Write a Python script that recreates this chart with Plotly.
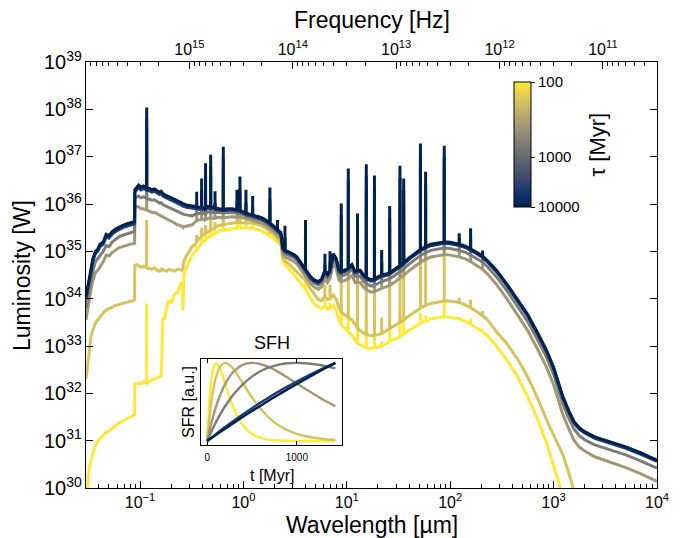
import math
import plotly.graph_objects as go
from plotly.colors import sample_colorscale, sequential

# ---------------- data ----------------
tau_myr = [100, 200, 500, 1000, 5000, 10000]

wavelength_um = [
    0.0300, 0.0310, 0.0322, 0.0335, 0.0350, 0.0370, 0.0390, 0.0410, 0.0440, 0.0470,
    0.0500, 0.0540, 0.0580, 0.0630, 0.0680, 0.0740, 0.0800, 0.0860, 0.0885, 0.0890,
    0.0930, 0.0970, 0.1020, 0.1080, 0.1159, 0.1230, 0.1300, 0.1380, 0.1460, 0.1540,
    0.1600, 0.1630, 0.1660, 0.1720, 0.1800, 0.1900, 0.2000, 0.2150, 0.2300, 0.2450,
    0.2550, 0.2600, 0.2650, 0.2800, 0.3000, 0.3200, 0.3400, 0.353, 0.372, 0.394,
    0.410, 0.430, 0.455, 0.482, 0.505, 0.531, 0.580, 0.638, 0.700, 0.780,
    0.865, 0.925, 0.980, 1.057, 1.130, 1.227, 1.350, 1.500, 1.650, 1.803,
    1.950, 2.130, 2.300, 2.400, 2.520, 2.8, 3.1, 3.3, 3.6, 3.98,
    4.4, 4.8, 5.3, 5.7, 6.14, 6.5, 6.87, 7.4, 7.9, 8.4,
    8.83, 9.5, 10.33, 11.2, 12.0, 12.68, 13.5, 14.5, 15.42, 17.0,
    18.49, 20.0, 21.73, 24.0, 25.96, 29.0, 32.66, 35.48, 40.0, 45.0,
    51.5, 57.8, 65.0, 75.0, 87.5, 100.0, 122.2, 140.0, 157.5, 180.0,
    205.6, 230.0, 280.0, 350.0, 450.0, 560.0, 700.0, 850.0, 1000.0, 1230.0,
    1410.0, 1580.0, 1780.0, 2000.0, 2500.0, 3500.0, 5000.0, 7000.0, 10000.0,
]

# log10 of the continuum luminosity [W]
log_lum_tau100 = [
    29.60, 30.00, 30.40, 30.60, 30.75, 30.90, 30.98, 31.05, 31.12, 31.18,
    31.20, 31.27, 31.32, 31.38, 31.42, 31.47, 31.50, 31.53, 31.55, 32.20,
    32.20, 32.22, 32.20, 32.24, 32.22, 32.25, 32.28, 32.30, 32.33, 32.35,
    32.36, 32.90, 33.60, 33.55, 33.80, 33.97, 33.90, 34.10, 34.12, 34.30,
    34.35, 33.75, 34.50, 34.65, 34.80, 34.92, 34.98, 35.02, 35.10, 35.18,
    35.20, 35.24, 35.30, 35.32, 35.35, 35.38, 35.43, 35.44, 35.46, 35.48,
    35.49, 35.50, 35.50, 35.50, 35.50, 35.49, 35.46, 35.43, 35.38, 35.32,
    35.27, 35.20, 35.12, 34.80, 34.72, 34.62, 34.50, 34.43, 34.32, 34.20,
    34.03, 33.90, 33.82, 33.79, 33.85, 33.78, 33.80, 33.86, 33.74, 33.55,
    33.45, 33.38, 33.30, 33.22, 33.12, 33.06, 33.02, 32.98, 32.96, 32.95,
    32.96, 32.98, 33.00, 33.05, 33.10, 33.14, 33.20, 33.25, 33.33, 33.40,
    33.48, 33.53, 33.57, 33.60, 33.62, 33.61, 33.57, 33.52, 33.46, 33.38,
    33.30, 33.22, 33.00, 32.72, 32.35, 31.93, 31.45, 30.97, 30.45, 29.85,
    29.40, 29.00, 28.60, 28.20, 27.50, 26.60, 25.80, 25.10, 24.30,
]
log_lum_tau200 = [
    32.30, 32.60, 32.95, 33.20, 33.35, 33.48, 33.55, 33.62, 33.70, 33.76,
    33.78, 33.82, 33.86, 33.88, 33.90, 33.93, 33.95, 33.96, 33.98, 34.70,
    34.72, 34.70, 34.66, 34.68, 34.65, 34.64, 34.62, 34.65, 34.60, 34.58,
    34.62, 34.60, 34.62, 34.60, 34.58, 34.62, 34.60, 34.58, 34.62, 34.60,
    34.60, 34.65, 34.78, 34.90, 35.00, 35.10, 35.15, 35.20, 35.27, 35.31,
    35.35, 35.38, 35.42, 35.45, 35.47, 35.50, 35.55, 35.56, 35.58, 35.60,
    35.61, 35.61, 35.60, 35.60, 35.60, 35.60, 35.57, 35.54, 35.48, 35.42,
    35.36, 35.28, 35.20, 34.87, 34.80, 34.72, 34.62, 34.56, 34.46, 34.38,
    34.22, 34.10, 33.98, 33.96, 34.05, 33.98, 34.00, 34.08, 33.98, 33.80,
    33.72, 33.66, 33.60, 33.55, 33.45, 33.38, 33.32, 33.27, 33.24, 33.22,
    33.22, 33.24, 33.27, 33.32, 33.37, 33.43, 33.50, 33.55, 33.64, 33.72,
    33.80, 33.86, 33.90, 33.93, 33.95, 33.95, 33.92, 33.87, 33.81, 33.73,
    33.64, 33.55, 33.30, 33.06, 32.72, 32.35, 31.90, 31.45, 31.12, 30.70,
    30.30, 29.90, 29.50, 29.10, 28.40, 27.50, 26.70, 26.00, 25.20,
]
log_lum_tau500 = [
    33.55, 33.76, 34.00, 34.20, 34.38, 34.55, 34.60, 34.68, 34.78, 34.92,
    34.90, 34.98, 35.03, 35.08, 35.10, 35.13, 35.15, 35.16, 35.17, 35.90,
    35.95, 35.94, 35.90, 35.90, 35.87, 35.85, 35.82, 35.82, 35.79, 35.76,
    35.75, 35.74, 35.72, 35.70, 35.68, 35.66, 35.64, 35.60, 35.56, 35.55,
    35.52, 35.50, 35.52, 35.53, 35.55, 35.56, 35.62, 35.65, 35.66, 35.67,
    35.67, 35.67, 35.70, 35.70, 35.70, 35.70, 35.72, 35.71, 35.72, 35.73,
    35.72, 35.72, 35.71, 35.69, 35.67, 35.65, 35.62, 35.59, 35.54, 35.48,
    35.42, 35.34, 35.28, 34.95, 34.89, 34.83, 34.78, 34.73, 34.60, 34.47,
    34.33, 34.25, 34.20, 34.25, 34.42, 34.34, 34.42, 34.75, 34.64, 34.39,
    34.36, 34.38, 34.42, 34.49, 34.34, 34.35, 34.34, 34.24, 34.19, 34.14,
    34.15, 34.18, 34.22, 34.25, 34.28, 34.35, 34.43, 34.49, 34.59, 34.68,
    34.77, 34.83, 34.88, 34.91, 34.93, 34.92, 34.88, 34.84, 34.78, 34.70,
    34.62, 34.52, 34.30, 34.01, 33.66, 33.33, 32.93, 32.56, 32.18, 31.55,
    31.24, 31.00, 30.86, 30.78, 30.66, 30.55, 30.43, 30.30, 30.14,
]
log_lum_tau1000 = [
    33.80, 33.97, 34.20, 34.39, 34.60, 34.78, 34.85, 34.93, 35.00, 35.12,
    35.10, 35.20, 35.25, 35.31, 35.34, 35.37, 35.39, 35.41, 35.42, 36.10,
    36.15, 36.17, 36.13, 36.15, 36.12, 36.10, 36.08, 36.09, 36.05, 36.02,
    36.03, 36.00, 35.99, 35.97, 35.95, 35.93, 35.90, 35.88, 35.84, 35.82,
    35.80, 35.78, 35.78, 35.77, 35.76, 35.75, 35.78, 35.80, 35.80, 35.80,
    35.80, 35.80, 35.83, 35.83, 35.82, 35.82, 35.82, 35.81, 35.82, 35.82,
    35.81, 35.80, 35.78, 35.75, 35.73, 35.71, 35.68, 35.65, 35.60, 35.54,
    35.48, 35.40, 35.34, 35.02, 34.96, 34.91, 34.86, 34.81, 34.68, 34.55,
    34.41, 34.33, 34.29, 34.34, 34.52, 34.44, 34.52, 34.86, 34.76, 34.51,
    34.48, 34.50, 34.55, 34.62, 34.47, 34.48, 34.47, 34.37, 34.32, 34.27,
    34.28, 34.32, 34.36, 34.39, 34.42, 34.49, 34.57, 34.63, 34.73, 34.82,
    34.91, 34.97, 35.02, 35.05, 35.07, 35.06, 35.02, 34.98, 34.92, 34.85,
    34.77, 34.67, 34.46, 34.18, 33.84, 33.52, 33.13, 32.77, 32.40, 31.77,
    31.46, 31.24, 31.10, 31.02, 30.91, 30.81, 30.70, 30.57, 30.42,
]
log_lum_tau5000 = [
    34.00, 34.15, 34.40, 34.57, 34.80, 34.95, 35.00, 35.10, 35.15, 35.31,
    35.28, 35.37, 35.42, 35.47, 35.50, 35.53, 35.55, 35.57, 35.58, 36.25,
    36.31, 36.35, 36.30, 36.33, 36.29, 36.28, 36.25, 36.27, 36.23, 36.20,
    36.22, 36.19, 36.17, 36.15, 36.13, 36.10, 36.07, 36.05, 36.01, 35.98,
    35.97, 35.95, 35.95, 35.93, 35.92, 35.90, 35.89, 35.90, 35.89, 35.89,
    35.88, 35.88, 35.91, 35.90, 35.90, 35.89, 35.87, 35.86, 35.87, 35.87,
    35.85, 35.84, 35.81, 35.78, 35.76, 35.74, 35.71, 35.68, 35.63, 35.57,
    35.51, 35.43, 35.37, 35.05, 34.99, 34.95, 34.90, 34.85, 34.72, 34.59,
    34.45, 34.37, 34.33, 34.39, 34.57, 34.49, 34.57, 34.92, 34.82, 34.57,
    34.55, 34.57, 34.62, 34.69, 34.55, 34.57, 34.57, 34.47, 34.42, 34.37,
    34.39, 34.43, 34.47, 34.49, 34.52, 34.59, 34.67, 34.73, 34.83, 34.92,
    35.01, 35.07, 35.12, 35.15, 35.17, 35.16, 35.12, 35.08, 35.02, 34.95,
    34.87, 34.77, 34.57, 34.29, 33.95, 33.64, 33.25, 32.89, 32.52, 31.90,
    31.59, 31.37, 31.24, 31.16, 31.05, 30.95, 30.84, 30.71, 30.56,
]
log_lum_tau10000 = [
    34.05, 34.20, 34.45, 34.62, 34.85, 35.00, 35.05, 35.15, 35.20, 35.36,
    35.33, 35.42, 35.47, 35.52, 35.55, 35.58, 35.60, 35.62, 35.63, 36.30,
    36.36, 36.40, 36.35, 36.38, 36.34, 36.33, 36.30, 36.32, 36.28, 36.25,
    36.27, 36.24, 36.22, 36.20, 36.18, 36.15, 36.12, 36.10, 36.06, 36.03,
    36.02, 36.00, 36.00, 35.98, 35.97, 35.95, 35.94, 35.94, 35.93, 35.93,
    35.92, 35.92, 35.95, 35.94, 35.93, 35.92, 35.90, 35.89, 35.90, 35.90,
    35.88, 35.87, 35.84, 35.81, 35.79, 35.77, 35.74, 35.71, 35.66, 35.60,
    35.54, 35.46, 35.40, 35.08, 35.02, 34.98, 34.93, 34.88, 34.75, 34.62,
    34.48, 34.40, 34.36, 34.42, 34.60, 34.52, 34.60, 34.95, 34.85, 34.60,
    34.58, 34.60, 34.65, 34.72, 34.58, 34.60, 34.60, 34.50, 34.45, 34.40,
    34.42, 34.46, 34.50, 34.52, 34.55, 34.62, 34.70, 34.76, 34.86, 34.95,
    35.04, 35.10, 35.15, 35.18, 35.20, 35.19, 35.15, 35.11, 35.05, 34.98,
    34.90, 34.80, 34.60, 34.32, 33.98, 33.67, 33.28, 32.92, 32.55, 31.93,
    31.62, 31.40, 31.27, 31.19, 31.08, 30.98, 30.87, 30.74, 30.59,
]

# emission lines: wavelength and log10 of the line peak for each tau
line_wavelength_um = [
    0.1159, 0.353, 0.394, 0.430, 0.482, 0.531, 0.638, 0.865, 0.925, 1.057,
    1.227, 1.803, 2.130, 2.520, 3.98, 6.14, 6.87, 8.83, 10.33, 12.68,
    15.42, 18.49, 21.73, 25.96, 32.66, 35.48, 51.5, 57.8, 87.5, 122.2,
    157.5, 205.6,
]
line_peak_tau100 = [
    33.90, 35.12, 35.28, 35.34, 35.50, 35.48, 35.63, 35.58, 35.60, 35.58,
    35.57, 35.45, 35.28, 34.82, 34.35, 33.98, 33.92, 33.85, 33.75, 33.50,
    33.55, 33.50, 33.10, 33.50, 33.65, 33.60, 33.70, 33.65, 34.00, 33.62,
    33.58, 33.36,
]
line_peak_tau200 = [
    35.66, 35.35, 35.50, 35.55, 35.75, 35.62, 35.80, 35.72, 35.75, 35.72,
    35.70, 35.60, 35.38, 35.00, 34.70, 34.30, 34.30, 34.70, 34.90, 34.60,
    34.80, 34.75, 33.60, 34.60, 34.90, 34.85, 35.20, 35.00, 35.20, 34.02,
    33.98, 33.74,
]
line_peak_tau500 = [
    37.20, 35.80, 36.00, 36.10, 36.30, 35.85, 36.40, 35.90, 36.00, 35.90,
    35.85, 35.80, 35.50, 35.20, 35.10, 34.60, 34.65, 35.30, 35.80, 35.10,
    35.90, 35.70, 34.60, 35.20, 35.90, 35.70, 36.40, 35.90, 36.40, 35.05,
    35.10, 34.75,
]
line_peak_tau1000 = [
    37.60, 36.00, 36.20, 36.40, 36.60, 36.00, 36.70, 36.00, 36.20, 36.00,
    35.95, 36.00, 35.55, 35.30, 35.30, 34.75, 34.80, 35.60, 36.20, 35.40,
    36.30, 36.10, 34.80, 35.50, 36.30, 36.00, 36.80, 36.20, 36.80, 35.20,
    35.30, 34.90,
]
line_peak_tau5000 = [
    37.79, 36.01, 36.29, 36.61, 36.79, 36.02, 36.96, 36.05, 36.33, 36.05,
    35.92, 36.10, 35.55, 35.29, 35.41, 34.70, 34.75, 35.76, 36.50, 35.55,
    36.59, 36.35, 34.78, 35.71, 36.56, 36.29, 37.03, 36.43, 36.98, 35.28,
    35.24, 34.95,
]
line_peak_tau10000 = [
    38.04, 36.26, 36.54, 36.86, 37.04, 36.27, 37.21, 36.30, 36.58, 36.30,
    36.17, 36.35, 35.66, 35.54, 35.66, 34.95, 35.00, 36.01, 36.75, 35.80,
    36.84, 36.60, 35.03, 35.96, 36.81, 36.54, 37.28, 36.68, 37.23, 35.38,
    35.49, 35.02,
]

# star formation histories (inset), normalised
sfh_time_myr = [0, 25, 50, 75, 100, 150, 200, 250, 300, 400,
                500, 600, 700, 800, 900, 1000, 1100, 1200, 1300, 1430]
sfh_tau100 = [0, 0.529, 0.824, 0.963, 1.0, 0.910, 0.736, 0.558, 0.406, 0.199,
              0.092, 0.040, 0.017, 0.007, 0.003, 0.001, 0.0005, 0.0002, 0.0001, 0.0]
sfh_tau200 = [0, 0.300, 0.529, 0.701, 0.824, 0.963, 1.0, 0.974, 0.910, 0.736,
              0.558, 0.406, 0.287, 0.199, 0.136, 0.092, 0.061, 0.040, 0.027, 0.015]
sfh_tau500 = [0, 0.129, 0.246, 0.351, 0.445, 0.604, 0.729, 0.824, 0.895, 0.977,
              1.0, 0.982, 0.938, 0.878, 0.809, 0.736, 0.663, 0.592, 0.525, 0.445]
sfh_tau1000 = [0, 0.066, 0.129, 0.189, 0.246, 0.351, 0.445, 0.529, 0.604, 0.729,
               0.824, 0.895, 0.945, 0.977, 0.995, 1.0, 0.995, 0.982, 0.963, 0.930]
sfh_tau5000 = [0, 0.023, 0.046, 0.069, 0.091, 0.136, 0.179, 0.221, 0.263, 0.344,
               0.421, 0.495, 0.567, 0.635, 0.700, 0.762, 0.822, 0.879, 0.933, 1.0]
sfh_tau10000 = [0, 0.020, 0.040, 0.060, 0.080, 0.119, 0.158, 0.197, 0.235, 0.310,
                0.384, 0.456, 0.527, 0.596, 0.664, 0.730, 0.795, 0.859, 0.921, 1.0]

wavelength_ticks_um = [0.1, 1, 10, 100, 1000, 10000]
wavelength_tick_labels = ["10<sup>−1</sup>", "10<sup>0</sup>", "10<sup>1</sup>",
                          "10<sup>2</sup>", "10<sup>3</sup>", "10<sup>4</sup>"]
frequency_ticks_hz = [1e11, 1e12, 1e13, 1e14, 1e15]
frequency_tick_labels = ["10<sup>11</sup>", "10<sup>12</sup>", "10<sup>13</sup>",
                         "10<sup>14</sup>", "10<sup>15</sup>"]
colorbar_tick_labels = ["100", "1000", "10000"]

# ---------------- assembly ----------------
continua = [log_lum_tau100, log_lum_tau200, log_lum_tau500,
            log_lum_tau1000, log_lum_tau5000, log_lum_tau10000]
peaks = [line_peak_tau100, line_peak_tau200, line_peak_tau500,
         line_peak_tau1000, line_peak_tau5000, line_peak_tau10000]
sfhs = [sfh_tau100, sfh_tau200, sfh_tau500, sfh_tau1000, sfh_tau5000, sfh_tau10000]

for c in continua:
    assert len(c) == len(wavelength_um)
for p in peaks:
    assert len(p) == len(line_wavelength_um)
assert all(w in wavelength_um for w in line_wavelength_um)

n = len(tau_myr)
# line colours: cividis, yellow for 100 Myr to dark blue for 10000 Myr (log spacing)
colors = [sample_colorscale(sequential.Cividis, [1 - (math.log10(t) - 2) / 2])[0] for t in tau_myr]


def spectrum_xy(cont, peak):
    peak_at = dict(zip(line_wavelength_um, peak))
    xs, ys = [], []
    for w, c in zip(wavelength_um, cont):
        xs.append(w)
        ys.append(10 ** c)
        if w in peak_at:
            xs += [w, w]
            ys += [10 ** peak_at[w], 10 ** c]
    return xs, ys


def minor_log_ticks(lo_exp, hi_exp):
    return [d * 10.0 ** e for e in range(lo_exp, hi_exp + 1) for d in range(2, 10)]


FONT = "Liberation Sans, Arial, Helvetica, sans-serif"
fig = go.Figure()

for i in range(n):
    xs, ys = spectrum_xy(continua[i], peaks[i])
    fig.add_trace(go.Scatter(x=xs, y=ys, mode="lines",
                             line=dict(color=colors[i], width=3),
                             hoverinfo="skip", showlegend=False))

# colour bar (top = 100 Myr, bottom = 10000 Myr)
fig.add_trace(go.Scatter(
    x=[None], y=[None], xaxis="x2", yaxis="y", mode="markers", showlegend=False,
    marker=dict(color=[0], cmin=0, cmax=n - 1, colorscale="Cividis", showscale=True,
                colorbar=dict(
                    x=0.7496, xanchor="left", xpad=0, ypad=0,
                    y=0.8063, yanchor="middle", len=0.2934, lenmode="fraction",
                    thickness=17, outlinewidth=1, outlinecolor="black",
                    tickmode="array",
                    tickvals=[n - 1 - tau_myr.index(100), n - 1 - tau_myr.index(1000),
                              n - 1 - tau_myr.index(10000)],
                    ticktext=colorbar_tick_labels,
                    ticks="outside", ticklen=4, tickcolor="black",
                    tickfont=dict(size=15, family=FONT, color="black"),
                ))))

for i in range(n):
    fig.add_trace(go.Scatter(x=sfh_time_myr, y=sfhs[i], xaxis="x3", yaxis="y3",
                             mode="lines", line=dict(color=colors[i], width=2.4, shape="spline"),
                             hoverinfo="skip", showlegend=False))

c_um = 2.998e14
lam_lo, lam_hi = -1.523, 4.0
axis_common = dict(showline=True, linecolor="black", linewidth=1, ticks="inside",
                   tickcolor="black", tickwidth=1, showgrid=False, zeroline=False,
                   automargin=False)

# the page body has an 8 px margin; margins below place the axes box at
# x 86..657, y 62..488 of the 684x538 window
fig.update_layout(
    width=684, height=538,
    margin=dict(l=78, r=35, t=54, b=58),
    paper_bgcolor="white", plot_bgcolor="white",
    font=dict(family=FONT, color="black"),
    showlegend=False,
    xaxis=dict(type="log", range=[lam_lo, lam_hi], domain=[0, 1], anchor="y",
               ticklen=7, tickmode="array", tickvals=wavelength_ticks_um,
               ticktext=wavelength_tick_labels, tickfont=dict(size=16),
               minor=dict(ticks="inside", ticklen=4, tickcolor="black", showgrid=False,
                          tickmode="array", tickvals=minor_log_ticks(-2, 3)),
               **axis_common),
    xaxis2=dict(type="log", overlaying="x", side="top", anchor="y",
                range=[math.log10(c_um) - lam_lo, math.log10(c_um) - lam_hi],
                ticklen=7, tickmode="array", tickvals=frequency_ticks_hz,
                ticktext=frequency_tick_labels, tickfont=dict(size=16),
                minor=dict(ticks="inside", ticklen=4, tickcolor="black", showgrid=False,
                           tickmode="array", tickvals=minor_log_ticks(10, 15)),
                **axis_common),
    yaxis=dict(type="log", range=[30, 39], domain=[0, 1], anchor="x",
               ticklen=7, dtick=1, exponentformat="power", mirror="ticks",
               tickfont=dict(size=16), **axis_common),
    xaxis3=dict(domain=[0.201, 0.448], anchor="y3", range=[-71.5, 1501.5],
                tickvals=[0, 1000], ticklen=4, mirror="ticks", ticklabelstandoff=3,
                tickfont=dict(size=10), **axis_common),
    yaxis3=dict(domain=[0.101, 0.303], anchor="x3", range=[-0.05, 1.05],
                showticklabels=False, mirror=True,
                **{k: v for k, v in axis_common.items() if k != "ticks"}, ticks=""),
)

anns = [
    dict(text="Luminosity [W]", x=-0.1121, y=0.5, textangle=-90, size=23),
    dict(text="Wavelength [µm]", x=0.5, y=-0.0870, textangle=0, size=23),
    dict(text="Frequency [Hz]", x=0.5, y=1.0986, textangle=0, size=23),
    dict(text="τ [Myr]", x=0.8958, y=0.8052, textangle=-90, size=22),
    dict(text="SFH", x=0.3249, y=0.3404, textangle=0, size=18),
    dict(text="SFR [a.u.]", x=0.1804, y=0.2019, textangle=-90, size=16),
    dict(text="t [Myr]", x=0.3249, y=0.0282, textangle=0, size=16),
]
for a in anns:
    fig.add_annotation(text=a["text"], x=a["x"], y=a["y"], xref="paper", yref="paper",
                       xanchor="center", yanchor="middle", textangle=a["textangle"],
                       showarrow=False, font=dict(size=a["size"], family=FONT, color="black"))

fig.write_html("out.html")
